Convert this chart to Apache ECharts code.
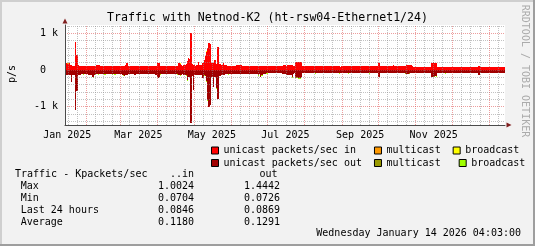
<!DOCTYPE html>
<html><head><meta charset="utf-8">
<script src="https://cdn.jsdelivr.net/npm/echarts@6/dist/echarts.min.js"></script>
<style>html,body{margin:0;padding:0;background:#f2f2f2}#c{width:535px;height:246px}</style>
</head><body><div id="c"></div>
<script>
const TITLE = 'Traffic with Netnod-K2 (ht-rsw04-Ethernet1/24)';
const START = Date.UTC(2025, 0, 14, 4, 3);
const DAY = 86400000;
const NDAYS = 365;
const END = START + NDAYS * DAY;

// daily values, packets/sec (out values are magnitudes, drawn below zero)
const unicastIn = [
 118,180,175,200,130,125,120,118,770,410,
 410,125,118,115,112,118,120,116,114,110,
 112,115,118,120,116,112,136,134,130,118,
 115,112,110,114,116,118,115,112,110,114,
 116,118,120,115,112,110,114,116,120,118,
 122,180,120,115,112,116,118,114,120,115,
 112,110,114,116,112,110,108,112,115,110,
 108,112,114,110,108,120,200,195,180,120,
 112,110,108,114,116,112,110,108,112,114,
 110,112,115,120,180,175,125,118,130,140,
 150,250,330,300,1002,150,140,125,120,130,
 226,135,130,128,180,272,380,500,590,727,
 700,200,180,200,270,160,619,619,150,130,
 140,180,130,125,120,118,115,112,116,118,
 115,112,136,130,128,132,126,120,112,110,
 108,110,112,108,106,110,112,108,106,104,
 110,108,112,110,106,108,110,106,104,108,
 110,108,105,108,110,106,104,100,95,96,
 120,125,122,118,136,138,134,136,130,112,
 110,218,225,220,215,222,212,110,106,104,
 108,110,106,104,108,106,110,108,104,106,
 108,104,106,110,108,104,106,108,110,106,
 104,108,106,110,108,106,104,108,71,106,
 108,110,106,104,108,106,110,108,106,104,
 108,110,106,108,112,110,106,104,108,110,
 106,108,104,106,110,108,106,104,108,110,
 198,106,104,108,106,110,108,104,106,108,
 110,106,130,108,104,106,110,108,106,112,
 110,114,120,136,134,136,130,125,95,84,
 82,80,84,82,80,78,82,84,80,82,
 84,82,80,84,200,205,198,195,190,84,
 82,80,84,82,78,80,82,84,80,82,
 84,82,80,78,82,84,80,82,84,82,
 80,82,84,80,78,82,84,82,80,82,
 84,80,82,108,82,80,84,82,80,82,
 84,82,80,78,82,84,80,82,84,82,
 80,82,84,82,85
];
const multicastIn = [
 1,1,1,0,0,0,0,0,2,1, 1,0,0,0,0,0,0,0,0,0, 0,0,0,0,0,0,1,0,0,0, 0,0,0,0,0,0,0,0,0,0,
 0,0,0,0,0,0,0,0,0,0, 0,1,0,0,0,0,0,0,0,0, 0,0,0,0,0,0,0,0,0,0, 0,0,0,0,0,0,1,1,0,0,
 0,0,0,0,0,0,0,0,0,0, 0,0,0,0,1,0,0,0,0,0, 0,1,1,1,2,0,0,0,0,0, 1,0,0,0,0,1,1,1,2,2,
 2,0,0,0,1,0,2,2,0,0, 0,0,0,0,0,0,0,0,0,0, 0,0,0,0,0,0,0,0,0,0, 0,0,0,0,0,0,0,0,0,0,
 0,0,0,0,0,0,0,0,0,0, 0,0,0,0,0,0,0,0,0,0, 0,0,0,0,0,0,0,0,0,0, 0,1,1,1,1,1,1,0,0,0,
 0,0,0,0,0,0,0,0,0,0, 0,0,0,0,0,0,0,0,0,0, 0,0,0,0,0,0,0,0,0,0, 0,0,0,0,0,0,0,0,0,0,
 0,0,0,0,0,0,0,0,0,0, 0,0,0,0,0,0,0,0,0,0, 1,0,0,0,0,0,0,0,0,0, 0,0,0,0,0,0,0,0,0,0,
 0,0,0,0,0,0,0,0,0,0, 0,0,0,0,0,0,0,0,0,0, 0,0,0,0,1,1,1,1,1,0, 0,0,0,0,0,0,0,0,0,0,
 0,0,0,0,0,0,0,0,0,0, 0,0,0,0,0,0,0,0,0,0, 0,0,0,0,0,0,0,0,0,0, 0,0,0,0,0,0,0,0,0,0,
 0,0,0,0,0
];
const broadcastIn = [
 1,1,1,1,1,1,1,1,3,2, 2,1,1,1,1,1,1,1,1,1, 1,1,1,1,1,1,1,1,1,1, 1,1,1,1,1,1,1,1,1,1,
 1,1,1,1,1,1,1,1,1,1, 1,1,1,1,1,1,1,1,1,1, 1,1,1,1,1,1,1,1,1,1, 1,1,1,1,1,1,1,1,1,1,
 1,1,1,1,1,1,1,1,1,1, 1,1,1,1,1,1,1,1,1,1, 1,1,1,1,3,1,1,1,1,1, 1,1,1,1,1,1,1,2,2,3,
 3,1,1,1,1,1,2,2,1,1, 1,1,1,1,1,1,1,1,1,1, 1,1,1,1,1,1,1,1,1,1, 1,1,1,1,1,1,1,1,1,1,
 1,1,1,1,1,1,1,1,1,1, 1,1,1,1,1,1,1,1,1,1, 1,1,1,1,1,1,1,1,1,1, 1,1,1,1,1,1,1,1,1,1,
 1,1,1,1,1,1,1,1,1,1, 1,1,1,1,1,1,1,1,1,1, 1,1,1,1,1,1,1,1,1,1, 1,1,1,1,1,1,1,1,1,1,
 1,1,1,1,1,1,1,1,1,1, 1,1,1,1,1,1,1,1,1,1, 1,1,1,1,1,1,1,1,1,1, 1,1,1,1,1,1,1,1,1,1,
 1,1,1,1,1,1,1,1,1,1, 1,1,1,1,1,1,1,1,1,1, 1,1,1,1,1,1,1,1,1,1, 1,1,1,1,1,1,1,1,1,1,
 1,1,1,1,1,1,1,1,1,1, 1,1,1,1,1,1,1,1,1,1, 1,1,1,1,1,1,1,1,1,1, 1,1,1,1,1,1,1,1,1,1,
 1,1,1,1,1
];
const unicastOut = [
 230,140,135,130,125,320,130,125,1090,570,
 570,130,125,120,118,122,120,118,116,138,
 140,135,183,180,125,120,118,122,120,118,
 116,118,120,122,118,116,120,118,116,118,
 120,122,118,116,120,118,116,140,150,155,
 138,125,120,118,116,120,118,140,135,118,
 116,118,120,118,116,114,118,120,116,114,
 118,116,114,118,120,125,200,210,190,122,
 118,116,114,118,120,116,114,118,116,120,
 118,116,120,122,130,128,125,120,130,140,
 150,272,180,180,1444,160,545,130,130,125,
 140,130,128,125,226,150,160,300,830,1000,
 950,200,180,455,180,480,780,780,160,140,
 140,130,125,120,118,122,120,118,116,118,
 116,118,120,118,116,120,118,116,114,112,
 110,112,108,110,112,108,110,106,108,110,
 130,112,183,150,110,106,100,95,92,90,
 92,90,88,92,90,88,90,92,88,90,
 110,112,108,136,138,134,136,130,180,100,
 92,210,205,212,208,210,200,90,88,86,
 88,90,86,88,92,88,86,90,88,86,
 88,90,86,88,90,86,88,92,88,86,
 88,90,86,88,92,88,86,90,88,86,
 88,90,86,88,90,86,88,92,88,86,
 88,90,86,88,90,86,73,75,88,86,
 88,90,86,88,90,86,88,90,86,88,
 185,88,86,90,88,86,88,90,86,88,
 90,86,88,90,86,88,90,86,88,90,
 92,94,96,100,98,96,94,92,80,78,
 76,78,74,76,78,76,74,78,76,74,
 76,78,76,74,180,182,178,176,175,78,
 76,74,78,76,74,78,76,74,76,78,
 76,74,78,76,74,76,78,76,74,76,
 78,76,74,76,78,76,74,76,78,76,
 74,76,78,138,76,74,78,76,74,76,
 78,76,74,76,78,76,74,76,78,76,
 74,76,78,80,87
];
const multicastOut = [
 1,1,1,1,1,1,1,1,2,2, 2,1,1,1,1,1,1,1,1,1, 1,1,1,1,1,1,1,1,1,1, 1,1,1,1,1,1,1,1,1,1,
 1,1,1,1,1,1,1,1,1,1, 1,1,1,1,1,1,1,1,1,1, 1,1,1,1,1,1,1,1,1,1, 1,1,1,1,1,1,1,1,1,1,
 1,1,1,1,1,1,1,1,1,1, 1,1,1,1,1,1,1,1,1,1, 1,1,1,1,2,1,1,1,1,1, 1,1,1,1,1,1,1,1,2,2,
 2,1,1,1,1,1,2,2,1,1, 1,1,1,1,1,1,1,1,1,1, 1,1,1,1,1,1,1,1,1,1, 1,1,1,1,1,1,1,1,1,1,
 1,1,1,1,1,1,1,1,1,1, 1,1,1,1,1,1,1,1,1,1, 1,1,1,1,1,1,1,1,1,1, 1,1,1,1,1,1,1,1,1,1,
 1,1,1,1,1,1,1,1,1,1, 1,1,1,1,1,1,1,1,1,1, 1,1,1,1,1,1,1,1,1,1, 1,1,1,1,1,1,1,1,1,1,
 1,1,1,1,1,1,1,1,1,1, 1,1,1,1,1,1,1,1,1,1, 1,1,1,1,1,1,1,1,1,1, 1,1,1,1,1,1,1,1,1,1,
 1,1,1,1,1,1,1,1,1,1, 1,1,1,1,1,1,1,1,1,1, 1,1,1,1,1,1,1,1,1,1, 1,1,1,1,1,1,1,1,1,1,
 1,1,1,1,1,1,1,1,1,1, 1,1,1,1,1,1,1,1,1,1, 1,1,1,1,1,1,1,1,1,1, 1,1,1,1,1,1,1,1,1,1,
 1,1,1,1,1
];
const broadcastOut = [
 1,1,1,1,1,1,1,1,1,1, 1,1,1,1,1,1,1,1,1,1, 1,1,1,25,1,25,1,1,1,1, 1,1,20,1,1,1,1,1,1,20,
 1,1,1,1,1,1,1,1,1,1, 1,1,1,1,1,1,1,1,1,1, 1,1,1,1,1,1,1,1,1,1, 1,1,1,1,1,1,1,1,1,1,
 1,1,1,1,1,1,1,1,1,1, 1,1,1,1,1,25,1,1,1,1, 1,30,1,1,1,1,1,1,1,1, 1,1,1,1,1,1,1,40,1,1,
 1,1,1,1,1,40,1,1,1,1, 1,1,1,1,1,1,1,1,1,1, 1,1,1,1,1,1,1,1,1,1, 1,1,1,1,1,1,1,1,1,1,
 25,1,1,1,1,1,1,1,1,1, 1,1,1,1,1,1,1,1,1,1, 1,1,1,1,1,1,1,1,25,1, 1,1,1,35,35,30,1,1,1,1,
 1,1,1,1,1,1,1,20,1,1, 1,1,1,1,1,1,1,1,1,1, 1,1,1,1,1,1,1,25,1,1, 1,1,1,1,1,20,1,1,1,1,
 1,1,1,1,1,1,1,1,1,1, 1,1,20,1,1,1,1,1,1,1, 1,1,1,1,1,1,1,1,1,1, 1,1,1,1,1,1,1,1,1,1,
 1,1,1,1,20,1,1,1,1,1, 1,1,1,1,1,1,1,1,1,1, 1,1,1,1,1,1,1,1,25,1, 1,1,1,1,1,20,1,1,1,1,
 1,1,1,1,1,1,1,1,1,15, 1,1,1,1,1,1,1,1,1,1, 1,1,1,1,1,1,1,1,1,1, 1,1,1,1,1,1,1,1,1,1,
 1,1,1,1,1
];

const xLabels = ['Jan 2025', 'Mar 2025', 'May 2025', 'Jul 2025', 'Sep 2025', 'Nov 2025'];
const xLabelMonths = [[2025, 0], [2025, 2], [2025, 4], [2025, 6], [2025, 8], [2025, 10]];
const yTickValues = [1000, 0, -1000];
const yTickLabels = ['1 k', '0  ', '-1 k'];
const yMinorGrid = [-1400, -1200, -800, -600, -400, -200, 200, 400, 600, 800, 1200];
const yMajorGrid = [-1000, 0, 1000];
const Y_MIN = -1500, Y_MAX = 1225;

const statHeader = 'Traffic - Kpackets/sec';
const statCols = ['..in', 'out'];
const statLabels = ['Max', 'Min', 'Last 24 hours', 'Average'];
const statIn = ['1.0024', '0.0704', '0.0846', '0.1180'];
const statOut = ['1.4442', '0.0726', '0.0869', '0.1291'];
const dateText = 'Wednesday January 14 2026 04:03:00';
const watermark = 'RRDTOOL / TOBI OETIKER';
const yName = 'p/s';

const FONT = 'DejaVu Sans Mono';
const F10 = '10px "DejaVu Sans Mono"';

// one row per day: [t0, t1, uIn, mIn, bIn, uOut, mOut, bOut]
const rows = unicastIn.map((v, i) => [START + i * DAY, START + (i + 1) * DAY,
  unicastIn[i], multicastIn[i], broadcastIn[i], unicastOut[i], multicastOut[i], broadcastOut[i]]);

const layers = [
  { name: 'unicast packets/sec in ', color: '#ff0000', sign: 1, dims: [2], own: 2 },
  { name: 'multicast', color: '#ff9900', sign: 1, dims: [2, 3], own: 3 },
  { name: 'broadcast', color: '#ffff00', sign: 1, dims: [2, 3, 4], own: 4 },
  { name: 'unicast packets/sec out', color: '#a00000', sign: -1, dims: [5], own: 5 },
  { name: 'multicast ', color: '#999900', sign: -1, dims: [5, 6], own: 6 },
  { name: 'broadcast ', color: '#a0ff00', sign: -1, dims: [5, 6, 7], own: 7 }
];

// RRD STACK: each layer is a band from the running total of the layers below it
function makeRender(layer) {
  return function (params, api) {
    let top = 0;
    layer.dims.forEach(d => { top += api.value(d); });
    const base = top - api.value(layer.own);
    const p0 = api.coord([api.value(0), layer.sign * base]);
    const p1 = api.coord([api.value(1), layer.sign * top]);
    const x0 = Math.round(p0[0]), x1 = Math.round(p1[0]);
    const y0 = Math.round(p0[1]), y1 = Math.round(p1[1]);
    if (x1 <= x0 || y0 === y1) return null;
    return { type: 'rect', shape: { x: x0, y: Math.min(y0, y1), width: x1 - x0, height: Math.abs(y1 - y0) },
      style: { fill: layer.color } };
  };
}

// grid lines
const minorStyle = { color: 'rgba(143,143,143,0.55)', width: 1, type: [1, 1] };
const majorStyle = { color: 'rgba(222,79,79,0.55)', width: 1, type: [1, 1] };
const gridLines = [];
yMinorGrid.forEach(v => gridLines.push({ yAxis: v, lineStyle: minorStyle }));
for (let m = 0; m <= 12; m++) {
  const s = Date.UTC(2025, m, 1), e = Date.UTC(2025, m + 1, 1);
  for (let q = 1; q <= 3; q++) {
    const t = s + (e - s) * q / 4;
    if (t > START && t < END) gridLines.push({ xAxis: t, lineStyle: minorStyle });
  }
}
yMajorGrid.forEach(v => gridLines.push({ yAxis: v, lineStyle: majorStyle }));
for (let m = 1; m <= 12; m++) {
  const t = Date.UTC(2025, m, 1);
  if (t > START && t < END) gridLines.push({ xAxis: t, lineStyle: majorStyle });
}

const series = [{
  type: 'line', data: [], z: 1, silent: true, clip: false,
  markLine: { silent: true, symbol: ['none', 'none'], label: { show: false }, animation: false, data: gridLines },
  markPoint: {
    silent: true, symbol: 'circle', symbolSize: 0, animation: false,
    itemStyle: { color: 'rgba(0,0,0,0)' },
    label: { show: true, position: 'bottom', distance: 5.5, formatter: '{b}', color: '#000', fontFamily: FONT, fontSize: 10 },
    data: xLabels.map((t, k) => ({ name: t, coord: [Date.UTC(xLabelMonths[k][0], xLabelMonths[k][1], 1) + 15 * DAY, Y_MIN] }))
  }
}];
layers.forEach(layer => series.push({
  type: 'custom', name: layer.name, data: rows, renderItem: makeRender(layer),
  encode: { x: [0, 1], y: layer.own }, color: layer.color, itemStyle: { color: layer.color },
  clip: true, z: 2, silent: true, animation: false
}));

const graphic = [
  { type: 'rect', shape: { x: 0, y: 0, width: 535, height: 2 }, style: { fill: '#cfcfcf' }, silent: true },
  { type: 'rect', shape: { x: 0, y: 0, width: 2, height: 246 }, style: { fill: '#cfcfcf' }, silent: true },
  { type: 'rect', shape: { x: 0, y: 244, width: 535, height: 2 }, style: { fill: '#9e9e9e' }, silent: true },
  { type: 'rect', shape: { x: 533, y: 0, width: 2, height: 246 }, style: { fill: '#9e9e9e' }, silent: true }
];
function txt(text, x, y, align, fill, rot) {
  const g = { type: 'text', x: x, y: y, silent: true,
    style: { text: text, font: F10, fill: fill || '#000', align: align, verticalAlign: 'middle', textAlign: align, textVerticalAlign: 'middle' } };
  if (rot) g.rotation = rot;
  return g;
}
graphic.push(txt(yName, 12, 74, 'center', '#000', Math.PI / 2));
graphic.push(txt(watermark, 524.5, 71, 'center', '#ababab', -Math.PI / 2));
graphic.push(txt(statHeader, 15, 174, 'left'));
graphic.push(txt(statCols[0], 194, 174, 'right'));
graphic.push(txt(statCols[1], 277.5, 174, 'right'));
statLabels.forEach((l, k) => {
  const y = 186 + k * 12.05;
  graphic.push(txt(l, 20.7, y, 'left'));
  graphic.push(txt(statIn[k], 194, y, 'right'));
  graphic.push(txt(statOut[k], 280, y, 'right'));
});
graphic.push(txt(dateText, 521, 233.8, 'right'));

const legendBase = {
  orient: 'horizontal', left: 211, itemWidth: 7, itemHeight: 7, itemGap: 12, icon: 'rect', padding: 0,
  selectedMode: false, textStyle: { fontFamily: FONT, fontSize: 10, color: '#000' },
  itemStyle: { borderColor: '#000', borderWidth: 1 }
};

const option = {
  animation: false,
  backgroundColor: '#f2f2f2',
  title: { text: TITLE, left: 'center', top: 12, padding: 0,
    textStyle: { fontFamily: FONT, fontSize: 11.6, fontWeight: 'normal', color: '#000' } },
  legend: [
    Object.assign({}, legendBase, { top: 145.5, data: layers.slice(0, 3).map(d => d.name) }),
    Object.assign({}, legendBase, { top: 158, data: layers.slice(3).map(d => d.name) })
  ],
  grid: { left: 65, right: 30, top: 25, bottom: 121, show: true, backgroundColor: '#ffffff', borderWidth: 0, containLabel: false },
  xAxis: [
    { type: 'time', min: START, max: END, z: 5,
      axisLine: { show: true, onZero: false, lineStyle: { color: '#4a4a4a', width: 1 } },
      axisTick: { show: false }, axisLabel: { show: false }, splitLine: { show: false } },
    { type: 'time', min: START, max: END, position: 'bottom', z: 6,
      axisLine: { show: true, onZero: false, symbol: ['none', 'triangle'], symbolSize: [5, 5], symbolOffset: [0, 4],
        lineStyle: { color: '#801f1f', width: 0 } },
      axisTick: { show: false }, axisLabel: { show: false }, splitLine: { show: false } }
  ],
  yAxis: [
    { type: 'value', min: Y_MIN, max: Y_MAX, interval: 500, z: 5,
      axisLine: { show: true, onZero: false, lineStyle: { color: '#4a4a4a', width: 1 } },
      axisTick: { show: false }, splitLine: { show: false },
      axisLabel: { show: true, margin: 7, fontFamily: FONT, fontSize: 10, color: '#000',
        formatter: v => { const k = yTickValues.indexOf(v); return k >= 0 ? yTickLabels[k] : ''; } } },
    { type: 'value', min: Y_MIN, max: Y_MAX, position: 'left', offset: 0, z: 6,
      axisLine: { show: true, onZero: false, symbol: ['none', 'triangle'], symbolSize: [5, 5], symbolOffset: [0, 4],
        lineStyle: { color: '#801f1f', width: 0 } },
      axisTick: { show: false }, axisLabel: { show: false }, splitLine: { show: false } }
  ],
  graphic: graphic,
  series: series
};
const chart = echarts.init(document.getElementById('c'), null, { renderer: 'canvas' });
chart.setOption(option);
</script></body></html>
